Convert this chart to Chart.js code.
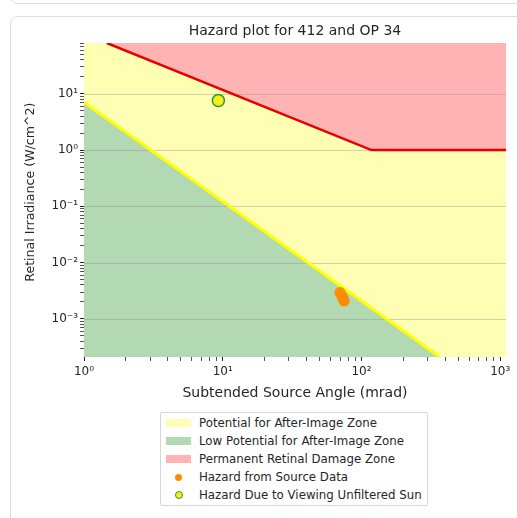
<!DOCTYPE html>
<html><head><meta charset="utf-8">
<script src="https://cdn.jsdelivr.net/npm/chart.js@4"></script>
<style>
html,body{margin:0;padding:0;background:#fff;width:517px;height:518px;overflow:hidden;font-family:'DejaVu Sans',sans-serif;}
.prev{position:absolute;left:10px;top:-30px;width:620px;height:32px;border:1px solid #dcdcdc;border-radius:8px;}
.card{position:absolute;left:10px;top:16px;width:620px;height:620px;border:1px solid #dcdcdc;border-radius:8px;}
#c{position:absolute;left:0;top:0;}
#legend{position:absolute;left:160px;top:412px;width:268px;height:94px;border:1px solid #d6d6d6;border-radius:2px;background:#fff;box-sizing:border-box;padding-top:1px;}
.row{height:18px;display:flex;align-items:center;font-size:11.8px;color:#262626;white-space:nowrap;}
.sw{width:25px;margin-left:5px;margin-right:8px;height:18px;display:flex;justify-content:center;align-items:center;}
</style></head>
<body>
<div class="prev"></div>
<div class="card"></div>
<canvas id="c" width="517" height="410"></canvas>
<div id="legend"></div>
<script>
// ---- data ----
const chartTitle = 'Hazard plot for 412 and OP 34';
const xTitle = 'Subtended Source Angle (mrad)';
const yTitle = 'Retinal Irradiance (W/cm^2)';
const xMin = 1, xMax = 1100;
const yMin = 2.1e-4, yMax = 80;
const afterImageX = [1, 366];
const afterImageY = [7.1, 2.1e-4];
const burnX = [1.46, 118, 1100];
const burnY = [80, 1, 1];
const sourceX = [70, 72, 73.5, 75];
const sourceY = [2.95e-3, 2.6e-3, 2.3e-3, 2.07e-3];
const sunX = [9.3];
const sunY = [7.6];
const xMajorTicks = [1, 10, 100, 1000];
const xTickLabels = ['10\u2070', '10\u00b9', '10\u00b2', '10\u00b3'];
const yMajorTicks = [1e-3, 1e-2, 1e-1, 1, 10];
const yTickLabels = ['10\u207b\u00b3', '10\u207b\u00b2', '10\u207b\u00b9', '10\u2070', '10\u00b9'];
const legendLabels = ['Potential for After-Image Zone', 'Low Potential for After-Image Zone', 'Permanent Retinal Damage Zone', 'Hazard from Source Data', 'Hazard Due to Viewing Unfiltered Sun'];

// ---- styles ----
const FONT = 'DejaVu Sans';
const YELLOW_ZONE = '#ffffb3', GREEN_ZONE = '#b3d9b3', RED_ZONE = '#ffb3b3';
const RED_LINE = '#e60000', YELLOW_LINE = '#ffff00';
const ORANGE = '#ff8c00', SUN_FILL = '#f2f21a', SUN_EDGE = '#3c8c3c';
const GRID = 'rgba(150,150,150,0.55)';
const TEXT = '#262626';

const toXY = (xs, ys) => xs.map((x, i) => ({x, y: ys[i]}));
function logTicks(min, max) {
  const t = [];
  for (let e = Math.floor(Math.log10(min)); e <= Math.ceil(Math.log10(max)); e++) {
    for (let k = 1; k <= 9; k++) {
      const v = k * Math.pow(10, e);
      if (v >= min * 0.9999 && v <= max * 1.0001) t.push({value: v, major: k === 1});
    }
  }
  return t;
}
function labelFor(v, majors, labels) {
  for (let i = 0; i < majors.length; i++) if (Math.abs(v / majors[i] - 1) < 1e-6) return labels[i];
  return '';
}

const zonePlugin = {
  id: 'zones',
  beforeDraw(c) {
    const a = c.chartArea, ctx = c.ctx;
    ctx.save(); ctx.fillStyle = YELLOW_ZONE;
    ctx.fillRect(a.left, a.top, a.right - a.left, a.bottom - a.top);
    ctx.restore();
  },
  beforeDatasetsDraw(c) {
    const a = c.chartArea, ctx = c.ctx, ys = c.scales.y;
    ctx.save(); ctx.strokeStyle = GRID; ctx.lineWidth = 0.8;
    yMajorTicks.forEach(v => {
      const p = Math.round(ys.getPixelForValue(v)) + 0.5;
      ctx.beginPath(); ctx.moveTo(a.left, p); ctx.lineTo(a.right, p); ctx.stroke();
    });
    ctx.restore();
  },
  afterDraw(c) {
    // y axis title, placed like the reference (slightly above the plot centre)
    const a = c.chartArea, ctx = c.ctx;
    ctx.save();
    ctx.translate(31, a.top + (a.bottom - a.top) * 0.475);
    ctx.rotate(-Math.PI / 2);
    ctx.fillStyle = TEXT; ctx.font = '12.6px "' + FONT + '"';
    ctx.textAlign = 'center'; ctx.textBaseline = 'middle';
    ctx.fillText(yTitle, 0, 0);
    ctx.restore();
  }
};

new Chart(document.getElementById('c'), {
  type: 'line',
  data: {
    datasets: [
      {label: legendLabels[4], data: toXY(sunX, sunY), showLine: false, pointRadius: 6,
       pointBackgroundColor: SUN_FILL, pointBorderColor: SUN_EDGE, pointBorderWidth: 1.5, fill: false},
      {label: legendLabels[3], data: toXY(sourceX, sourceY), showLine: false, pointRadius: 5.5,
       pointBackgroundColor: ORANGE, pointBorderColor: ORANGE, pointBorderWidth: 0, fill: false},
      {label: legendLabels[2], data: toXY(burnX, burnY), borderColor: RED_LINE, borderWidth: 2.5,
       pointRadius: 0, fill: 'end', backgroundColor: RED_ZONE, tension: 0},
      {label: legendLabels[1], data: toXY(afterImageX, afterImageY), borderColor: YELLOW_LINE, borderWidth: 3,
       pointRadius: 0, fill: 'start', backgroundColor: GREEN_ZONE, tension: 0}
    ]
  },
  options: {
    responsive: false, animation: false, events: [],
    layout: {padding: {left: 0, right: 11, top: 0, bottom: 8}},
    plugins: {
      filler: {drawTime: 'beforeDatasetsDraw'},
      legend: {display: false}, tooltip: {enabled: false},
      title: {display: true, text: chartTitle, fullSize: false, color: TEXT,
              font: {family: FONT, size: 14, weight: 'normal'}, padding: {top: 22.6, bottom: 3.6}}
    },
    scales: {
      x: {
        type: 'logarithmic', min: xMin, max: xMax,
        border: {display: false},
        grid: {drawOnChartArea: false, drawTicks: true, tickLength: 4,
               tickColor: ctx => (ctx.tick && ctx.tick.major) ? '#222' : '#555', tickWidth: 1},
        afterBuildTicks: s => { s.ticks = logTicks(xMin, xMax); },
        afterFit: s => { s.height = 45; },
        ticks: {autoSkip: false, maxRotation: 0, padding: 4, color: TEXT,
                font: {family: FONT, size: 12}, callback: v => labelFor(v, xMajorTicks, xTickLabels)},
        title: {display: true, text: xTitle, color: TEXT, font: {family: FONT, size: 14},
                padding: {top: 0, bottom: 0.6}}
      },
      y: {
        type: 'logarithmic', min: yMin, max: yMax,
        border: {display: false},
        grid: {drawOnChartArea: false, drawTicks: true, tickLength: 4,
               tickColor: ctx => (ctx.tick && ctx.tick.major) ? '#222' : '#555', tickWidth: 1},
        afterBuildTicks: s => { s.ticks = logTicks(yMin, yMax); },
        afterFit: s => { s.width = 84; },
        ticks: {autoSkip: false, padding: 2, color: TEXT,
                font: {family: FONT, size: 12}, callback: v => labelFor(v, yMajorTicks, yTickLabels)},
        title: {display: false, text: yTitle}
      }
    }
  },
  plugins: [zonePlugin]
});

// ---- HTML legend ----
const swatches = [
  '<div style="width:25px;height:8px;background:' + YELLOW_ZONE + '"></div>',
  '<div style="width:25px;height:8px;background:' + GREEN_ZONE + '"></div>',
  '<div style="width:25px;height:8px;background:' + RED_ZONE + '"></div>',
  '<div style="width:7px;height:7px;border-radius:50%;background:' + ORANGE + '"></div>',
  '<div style="width:6px;height:6px;border-radius:50%;background:' + SUN_FILL + ';border:1.2px solid ' + SUN_EDGE + '"></div>'
];
document.getElementById('legend').innerHTML = legendLabels.map((l, i) =>
  '<div class="row"><div class="sw">' + swatches[i] + '</div><span>' + l + '</span></div>').join('');
</script>
</body></html>
